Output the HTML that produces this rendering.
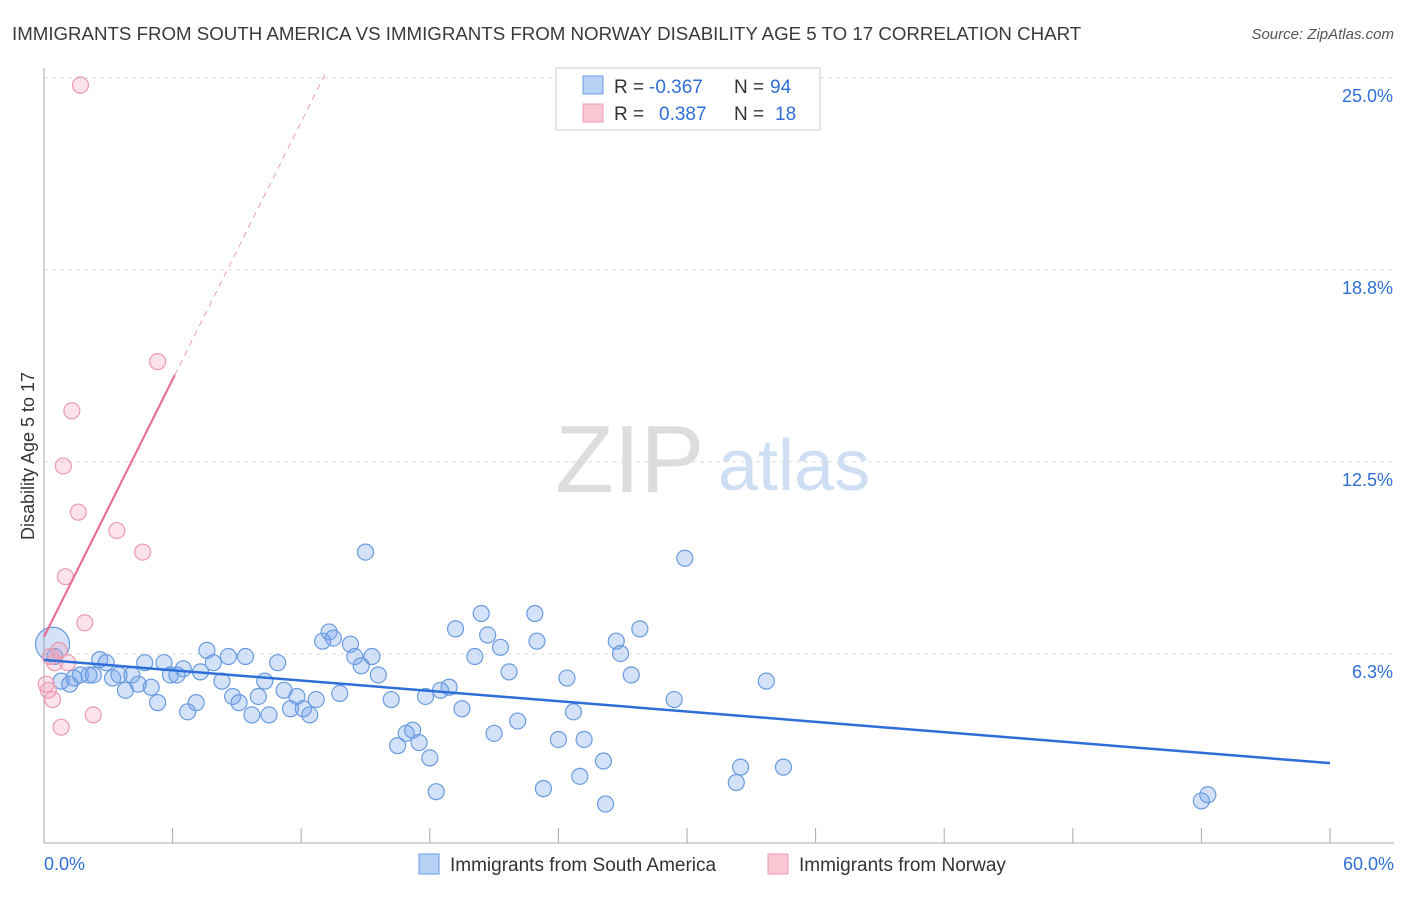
<!DOCTYPE html>
<html><head><meta charset="utf-8"><style>
body{margin:0;background:#fff;font-family:"Liberation Sans",sans-serif;}
svg text{font-family:"Liberation Sans",sans-serif;}
</style></head><body>
<svg id="chart" width="1406" height="892">
<text x="12" y="40" font-size="18.7" fill="#3a3a3a">IMMIGRANTS FROM SOUTH AMERICA VS IMMIGRANTS FROM NORWAY DISABILITY AGE 5 TO 17 CORRELATION CHART</text>
<text x="1394" y="39" font-size="15" fill="#555" text-anchor="end" font-style="italic">Source: ZipAtlas.com</text>
<text x="555" y="492" font-size="96" fill="#ddd" font-family="Liberation Serif">ZIP</text>
<text x="718" y="490" font-size="72" fill="#cfdff3">atlas</text>
<text x="34" y="456" font-size="18" fill="#333" text-anchor="middle" transform="rotate(-90 34 456)">Disability Age 5 to 17</text>
<g id="grid"></g><g id="marks"></g>
<g>
<rect x="556" y="68" width="264" height="62" fill="#fff" stroke="#ccc"/>
<rect x="583" y="76" width="20" height="18" fill="#b8d2f5" stroke="#6a9be0"/>
<rect x="583" y="104" width="20" height="18" fill="#f9c6d4" stroke="#ec9ab2"/>
<text x="614" y="93" font-size="19" fill="#333">R =</text>
<text x="649" y="93" font-size="19" fill="#2f6fd6">-0.367</text>
<text x="734" y="93" font-size="19" fill="#333">N =</text>
<text x="770" y="93" font-size="19" fill="#2f6fd6">94</text>
<text x="614" y="120" font-size="19" fill="#333">R =</text>
<text x="659" y="120" font-size="19" fill="#2f6fd6">0.387</text>
<text x="734" y="120" font-size="19" fill="#333">N =</text>
<text x="775" y="120" font-size="19" fill="#2f6fd6">18</text>
</g>
<g>
<rect x="419" y="854" width="20" height="20" fill="#b8d2f5" stroke="#6a9be0"/>
<text x="450" y="871" font-size="19" fill="#333">Immigrants from South America</text>
<rect x="768" y="854" width="20" height="20" fill="#f9c6d4" stroke="#ec9ab2"/>
<text x="799" y="871" font-size="19" fill="#333">Immigrants from Norway</text>
</g>
</svg>
<script>
const yTicks=[6.25,12.5,18.75,25];
const yTickLabels=["6.3%","12.5%","18.8%","25.0%"];
const xTickLabels=["0.0%","60.0%"];
const blueX=[0.4,0.5,0.8,1.2,1.4,1.7,2.1,2.3,2.6,2.9,3.2,3.5,3.8,4.1,4.4,4.7,5.0,5.3,5.6,5.9,6.2,6.5,6.7,7.1,7.3,7.6,7.9,8.3,8.6,8.8,9.1,9.4,9.7,10.0,10.3,10.5,10.9,11.2,11.5,11.8,12.1,12.4,12.7,13.0,13.3,13.5,13.8,14.3,14.5,14.8,15.0,15.3,15.6,16.2,16.5,16.9,17.2,17.5,17.8,18.0,18.3,18.5,18.9,19.2,19.5,20.1,20.4,20.7,21.0,21.3,21.7,22.1,22.9,23.0,23.3,24.0,24.4,24.7,25.0,25.2,26.1,26.2,26.7,26.9,27.4,27.8,29.4,29.9,32.3,32.5,33.7,34.5,54.0,54.3];
const blueY=[6.6,6.2,5.4,5.3,5.5,5.6,5.6,5.6,6.1,6.0,5.5,5.6,5.1,5.6,5.3,6.0,5.2,4.7,6.0,5.6,5.6,5.8,4.4,4.7,5.7,6.4,6.0,5.4,6.2,4.9,4.7,6.2,4.3,4.9,5.4,4.3,6.0,5.1,4.5,4.9,4.5,4.3,4.8,6.7,7.0,6.8,5.0,6.6,6.2,5.9,9.6,6.2,5.6,4.8,3.3,3.7,3.8,3.4,4.9,2.9,1.8,5.1,5.2,7.1,4.5,6.2,7.6,6.9,3.7,6.5,5.7,4.1,7.6,6.7,1.9,3.5,5.5,4.4,2.3,3.5,2.8,1.4,6.7,6.3,5.6,7.1,4.8,9.4,2.1,2.6,5.4,2.6,1.5,1.7];
const pinkX=[1.7,5.3,1.3,0.9,1.6,3.4,4.6,1.0,1.9,0.3,0.7,1.1,0.2,0.4,0.8,2.3,0.5,0.1];
const pinkY=[24.8,15.8,14.2,12.4,10.9,10.3,9.6,8.8,7.3,6.2,6.4,6.0,5.1,4.8,3.9,4.3,6.0,5.3];
const blueTrend=[6.09,2.73];
const pinkTrend=[6.84,15.36];
const NS="http://www.w3.org/2000/svg";
const X=v=>44+v/60*1286, Y=v=>847-v*30.72;
function mk(tag,attrs,parent){const e=document.createElementNS(NS,tag);for(const k in attrs)e.setAttribute(k,attrs[k]);parent.appendChild(e);return e;}
const g=document.getElementById('grid'),m=document.getElementById('marks');
yTicks.forEach((t,i)=>{
 const l=mk('line',{x1:44,x2:1394,y1:Y(t)-1,y2:Y(t)-1,stroke:'#ddd','stroke-dasharray':'4,4'},g);
 
 
 const tx=mk('text',{x:1393,y:Y(t)+23,'font-size':18,fill:'#2f6fd6','text-anchor':'end'},g);tx.textContent=yTickLabels[i];
 
 
});
const ax=mk('line',{x1:44,x2:1394,y1:843,y2:843,stroke:'#aaa'},g);


const ay=mk('line',{x1:44,x2:44,y1:68,y2:843,stroke:'#aaa'},g);


for(let i=0;i<=10;i++){const t=mk('line',{x1:X(i*6),x2:X(i*6),y1:828,y2:843,stroke:'#aaa'},g);
 
 }
[[0,'start',44],[60,'end',1394]].forEach((d,i)=>{const t=mk('text',{x:d[2],y:870,'font-size':18,fill:'#2f6fd6','text-anchor':d[1]},g);t.textContent=xTickLabels[i];
 
 });
blueX.forEach((x,i)=>{const c=mk('circle',{cx:X(x),cy:Y(blueY[i]),r:i===0?17:8,fill:'rgba(110,160,235,0.3)',stroke:'#6a9be0','stroke-width':1.2},m);
 
 });
pinkX.forEach((x,i)=>{const c=mk('circle',{cx:X(x),cy:Y(pinkY[i]),r:8,fill:'rgba(245,160,185,0.3)',stroke:'#ec9ab2','stroke-width':1.2},m);
 
 });
const bt=mk('line',{x1:X(0),y1:Y(blueTrend[0]),x2:X(60),y2:Y(blueTrend[1]),stroke:'#2d6fd6','stroke-width':2.5},m);


const px2=6.1,slope=(pinkTrend[1]-pinkTrend[0])/px2;
const pt=mk('line',{x1:X(0),y1:Y(pinkTrend[0]),x2:X(px2),y2:Y(pinkTrend[1]),stroke:'#e8709a','stroke-width':2.2},m);


const xe=(25.2-pinkTrend[0])/slope;
const pd=mk('line',{x1:X(px2),y1:Y(pinkTrend[1]),x2:X(xe),y2:Y(25.2),stroke:'#e8a0b8','stroke-width':1,'stroke-dasharray':'6,5'},m);


</script>
</body></html>
